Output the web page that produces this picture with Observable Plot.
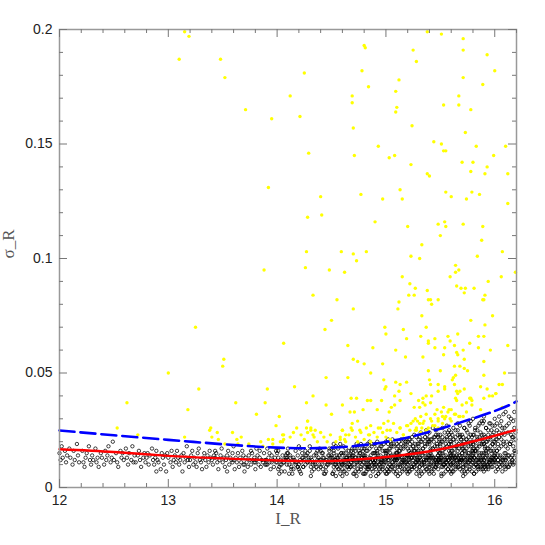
<!DOCTYPE html>
<html>
<head>
<meta charset="utf-8">
<script src="https://cdn.jsdelivr.net/npm/d3@7"></script>
<script src="https://cdn.jsdelivr.net/npm/@observablehq/plot@0.6"></script>
<style>
  html, body { margin: 0; padding: 0; background: white; }
</style>
</head>
<body>
<div id="chart"></div>
<script>
// ---- Data ----
// Bright (yellow) stars: [I_R, sigma_R]
const yellowPts = [
  [13.15,.199],[13.19,.197],[13.10,.187],[13.48,.187],[14.25,.181],[13.52,.179],[14.12,.171],[13.71,.165],[13.95,.161],[14.21,.162],
  [14.29,.146],[13.92,.131],[14.28,.118],[14.27,.103],[13.88,.095],[14.26,.096],[13.25,.070],[14.06,.063],[13.51,.056],[13.50,.053],
  [13.00,.050],[13.28,.043],[13.91,.043],[14.16,.044],[12.62,.037],[13.62,.037],[13.89,.037],[14.27,.037],[13.18,.034],[13.81,.032],
  [14.02,.031],[14.28,.029],[13.99,.027],[14.18,.026],[14.27,.026],[12.53,.026],[13.39,.026],
  [12.72,.023],[13.15,.022],[13.38,.025],[13.40,.022],[13.45,.024],[13.46,.021],[13.59,.024],[13.67,.022],[13.63,.021],[13.52,.019],
  [13.64,.019],[13.74,.019],[13.92,.021],[13.96,.021],[14.05,.023],[13.87,.018],[13.96,.019],[14.05,.020],[13.85,.020],
  [15.38,.199],[15.51,.198],[15.71,.196],[14.80,.193],[14.81,.192],[15.25,.191],[15.71,.191],[15.93,.189],[15.28,.186],[14.78,.182],
  [16.00,.182],[15.12,.178],[15.71,.179],[14.84,.175],[15.89,.176],[14.69,.171],[15.09,.173],[15.67,.171],[14.69,.168],[15.10,.166],
  [15.09,.164],[15.53,.167],[15.67,.167],[15.78,.165],[14.70,.157],[15.24,.158],[15.44,.151],[15.51,.150],[15.73,.155],[14.93,.149],
  [15.53,.147],[15.55,.147],[15.83,.149],[16.10,.149],[14.71,.145],[15.03,.144],[15.08,.145],[15.99,.145],[15.70,.142],[15.80,.142],
  [15.23,.141],[15.93,.140],[15.78,.138],[15.38,.137],[15.40,.136],[15.91,.137],[16.12,.137],
  [14.40,.127],[14.77,.128],[14.97,.126],[15.13,.130],[15.15,.126],[15.55,.129],[15.60,.127],[15.74,.126],[15.79,.129],[15.86,.128],
  [16.12,.124],[14.41,.119],[14.90,.116],[15.20,.114],[15.48,.115],[15.54,.116],[15.55,.114],[15.71,.115],[15.89,.114],[15.50,.110],
  [15.88,.108],[14.59,.103],[14.70,.102],[14.82,.103],[14.73,.099],[15.33,.106],[15.23,.101],[15.31,.100],[16.07,.103],[15.84,.101],
  [14.48,.095],[14.62,.094],[15.15,.092],[15.64,.097],[15.64,.094],[15.67,.095],[15.59,.092],[16.19,.094],[16.06,.092],[15.94,.090],
  [15.22,.089],[15.27,.087],[15.38,.086],[15.65,.088],[15.69,.087],[15.73,.087],[15.81,.087],[15.72,.085],[14.33,.084],[14.55,.082],
  [15.21,.084],[15.26,.084],[15.39,.082],[15.41,.082],[15.48,.082],[15.42,.080],[15.12,.081],[15.11,.078],[14.70,.078],[15.89,.082],
  [15.90,.082],[15.91,.084],[15.33,.075],[15.98,.075],[14.50,.073],[15.78,.073],[15.91,.071],[14.99,.070],[15.37,.070],[14.44,.069],
  [15.16,.069],
  [15.00,.067],[15.19,.065],[15.32,.066],[15.39,.064],[15.39,.063],[15.45,.065],[15.57,.066],[15.59,.064],[15.66,.067],[15.63,.062],
  [15.85,.066],[15.90,.066],[15.77,.063],[15.85,.061],[15.96,.060],[16.12,.062],[14.65,.062],[14.88,.061],[15.09,.060],[15.45,.061],
  [15.54,.061],[15.71,.060],[15.65,.059],[15.66,.058],[15.53,.058],[15.34,.057],[15.18,.057],[14.70,.056],[14.74,.055],[14.80,.054],
  [14.97,.054],[15.72,.056],[15.90,.055],[15.63,.053],[15.68,.053],[15.72,.052],[15.75,.051],[14.86,.050],[15.39,.051],[15.50,.051],
  [16.09,.050],[15.90,.049],[14.45,.048],[14.65,.048],[15.62,.048],[15.64,.049],[15.40,.047],[15.41,.045],[15.09,.046],[15.13,.045],
  [15.19,.046],[15.48,.045],[15.54,.044],[15.61,.047],[15.63,.045],[16.07,.045],[14.98,.047],[15.00,.044],[14.99,.043],[15.12,.042],
  [15.08,.040],[15.23,.041],[15.37,.040],[15.42,.040],[15.48,.042],[15.54,.043],[15.65,.042],[15.68,.042],[15.72,.043],[15.77,.039],
  [15.79,.038],[15.64,.039],[15.65,.038],[15.90,.039],[15.93,.043],[15.95,.040],[15.98,.040],[16.01,.041],[14.33,.040],[14.68,.039],
  [14.73,.039],[14.83,.038],[14.86,.038],[14.96,.038],[14.45,.036],[14.60,.036],[14.50,.032],[14.67,.033],[14.71,.033],[14.79,.034],
  [14.92,.034],[15.03,.033],[15.05,.035],[15.08,.036],[15.13,.038],[15.30,.038],[15.34,.039],[15.26,.035],[15.31,.035],[15.34,.037],
  [15.36,.036],[15.41,.037],[15.47,.034],[15.53,.035],[15.58,.034],[15.70,.036],[15.74,.037],[15.79,.036],[15.87,.034],[16.07,.035],
  [14.28,.029],[14.31,.026],[14.35,.025],[14.33,.023],[14.60,.025],[14.63,.023],[14.58,.021],[14.62,.021],[14.68,.026],[14.69,.028],
  [14.76,.025],[14.74,.029],[14.86,.027],[14.84,.023],[14.93,.026],[14.98,.028],[15.02,.029],[15.04,.025],[15.13,.026],[15.16,.023],
  [15.20,.027],[15.23,.028],[15.27,.030],[15.28,.026],[15.31,.028],[15.29,.029],[15.32,.031],[15.35,.029],[15.37,.032],[15.27,.025],
  [15.33,.026],[15.42,.029],[15.45,.032],[15.48,.030],[15.51,.033],[15.57,.033],[15.63,.032],[15.54,.030],[15.60,.029],[15.67,.031],
  [15.71,.031],[15.74,.033],[15.39,.026],[15.43,.027],[15.48,.026],
  [14.06,.023],[14.12,.022],[14.15,.024],[14.03,.020],[14.06,.021],[14.22,.023],[14.25,.021],[14.28,.024],[14.31,.025],[14.34,.022],
  [14.37,.020],[14.40,.024],[14.43,.022],[14.46,.020],[14.49,.023],[14.54,.020],[14.58,.022],[14.60,.025],[14.63,.020],[14.66,.023],
  [14.69,.025],[14.72,.022],[14.74,.020],[14.77,.024],[14.80,.021],[14.82,.026],[14.85,.023],[14.86,.020],[14.89,.024],[14.92,.022],
  [14.95,.026],[14.97,.024],[15.00,.022],[15.01,.025],[15.04,.021],[15.07,.028],[15.10,.024],[15.13,.026],[15.16,.023],[15.19,.027],
  [15.22,.025],[15.25,.029],[15.28,.025],[15.32,.024],[15.34,.028],[15.37,.025],[15.41,.030],[15.45,.027],[15.48,.029],[15.52,.028],
  [15.55,.031],[15.59,.030],[15.64,.032],[15.68,.031],
  [15.87,.044],[16.01,.041],[16.04,.045],[15.78,.039],[15.66,.041],[15.60,.034],[15.52,.031]
];

// Faint (black open circle) stars, one string per 0.1-mag column starting at I_R = 12.0.
// Each token: first digit = offset in 0.01 mag, remaining digits = sigma_R in thousandths.
const blackCols = [
  "015 112 218 313 516 611 714 917",
  "013 210 316 412 619 714 811",
  "116 211 309 413 515 718 812 910",
  "014 112 317 411 513 609 815 913",
  "110 216 312 414 518 711 813 920",
  "012 215 311 409 616 713 815 912",
  "117 213 310 415 612 718 811 914",
  "011 214 316 412 509 713 815 911",
  "013 115 210 314 517 612 710 813 916 907",
  "012 111 308 415 513 610 714 807 915",
  "013 211 316 409 512 614 711 816 913",
  "010 112 214 307 415 511 613 718 812 909",
  "012 114 216 310 413 511 609 715 817 912",
  "011 213 315 412 509 614 711 816 913 108",
  "012 110 214 313 415 511 608 712 814 917 316",
  "011 113 209 312 414 516 610 713 812 911 915 407",
  "012 108 213 311 415 509 613 711 816 910 914 018",
  "010 113 211 309 414 512 610 715 812 911 913 007 616",
  "011 112 214 310 413 509 612 711 815 910 912 008 117 416",
  "012 110 213 311 408 514 511 612 709 813 911 916 010 117 315",
  "011 113 209 312 410 514 611 707 812 910 913 015 108 310 611 813 206 407 612 814 915 116",
  "012 110 214 309 411 513 612 710 811 909 015 213 508 711 914 017 406 106 308 512 716 909",
  "010 112 211 313 409 512 610 714 811 912 008 107 315 413 616 811 913 206 409 614 815 018 117",
  "011 109 212 310 414 511 609 712 813 910 016 113 207 311 510 615 808 912 105 408 614 716 917 018",
  "012 110 208 313 411 509 612 710 814 911 009 115 213 406 512 610 711 816 913 306 507 714 817 016 215",
  "011 113 209 312 410 514 611 708 812 910 013 106 215 310 412 509 613 710 915 911 106 207 405 608 806 014 216 418 617 819 111 312 513 714 915 017 219 411",
  "010 112 211 313 409 512 610 714 811 912 008 107 315 413 616 811 913 014 210 512 709 005 207 406 608 809 115 317 512 713 914 010 212 413 614 816 118 311 509 710 917",
  "012 109 213 311 408 514 611 709 813 911 015 110 207 312 410 513 615 712 810 916 006 106 305 507 708 906 014 216 418 615 817 012 213 411 612 813 914 117 319 516 719",
  "011 113 210 312 409 513 611 708 812 910 014 106 216 310 412 509 614 710 815 911 017 308 006 207 408 605 807 915 114 316 517 718 911 013 212 410 611 812 118 319 520 719 109 309",
  "012 110 213 311 408 514 511 612 709 813 911 916 010 117 215 410 612 716 811 009 306 518 105 306 507 708 907 015 216 417 618 819 012 113 314 512 713 913 019 220 410 611 810 108 509",
  "011 113 209 312 410 514 611 707 812 910 913 015 108 310 611 813 016 219 417 519 718 906 212 415 006 207 408 609 808 014 116 317 518 719 912 113 214 413 613 814 020 221 420 621 812 915 106 307 509 710",
  "012 110 214 309 411 513 612 710 811 909 015 213 508 711 914 017 118 316 419 617 820 007 510 013 105 306 507 708 907 015 216 417 618 819 012 113 314 512 713 913 019 220 421 621 820 109 310 511 712 911 014 818",
  "010 112 211 313 409 512 610 714 811 912 008 107 315 413 616 811 913 017 121 219 420 518 716 919 806 006 207 408 609 808 014 116 317 518 719 912 113 214 413 613 814 020 221 422 623 822 910 111 309 510 711 014 215 616 817",
  "011 109 212 310 414 511 609 712 813 910 016 113 207 311 510 615 808 912 018 122 320 417 619 821 921 007 105 306 507 708 907 015 216 417 618 819 012 113 314 512 713 913 019 220 421 622 823 920 109 310 511 712 914 021 224 725",
  "012 110 208 313 411 509 612 710 814 911 009 115 213 406 512 610 711 816 913 019 121 317 420 522 718 823 920 006 207 408 609 808 014 116 317 518 719 912 113 214 413 613 814 020 221 422 623 822 921 010 211 410 611 812 024 326 625 915 117",
  "011 113 209 312 410 514 611 708 812 910 013 106 215 310 412 509 613 710 915 911 018 120 222 417 519 621 724 816 922 105 306 507 708 907 015 216 417 618 819 012 113 314 512 713 913 019 220 421 622 823 920 109 310 511 712 914 023 226 424 627 825 011 310",
  "010 112 211 313 409 512 610 714 811 912 008 107 315 413 616 811 913 014 210 512 709 019 123 221 418 520 625 717 823 921 006 207 408 609 808 014 116 317 518 719 912 113 214 413 613 814 020 221 422 623 822 921 010 211 410 611 812 024 226 425 628 827 113 514 016",
  "012 109 213 311 408 514 611 709 813 911 015 110 207 312 410 513 615 712 810 916 018 122 226 319 421 524 620 727 818 922 007 105 306 507 708 907 015 216 417 618 819 012 113 314 512 713 913 019 220 421 622 823 920 109 310 511 712 914 023 226 425 628 829 117 316 615 017",
  "011 113 210 312 409 513 611 708 812 910 014 106 216 310 412 509 614 710 815 911 017 020 123 225 318 422 527 619 724 821 928 106 307 508 709 908 015 216 417 618 819 012 113 314 512 713 913 019 220 421 622 823 920 109 310 511 712 914 023 226 425 628 829 030 117 316 615 016",
  "012 110 213 311 408 514 511 612 709 813 911 916 010 117 215 410 612 716 811 009 019 122 226 320 423 528 621 725 819 924 029 007 208 409 610 809 015 216 417 618 819 012 113 314 512 713 913 019 220 421 622 823 920 109 310 511 712 914 023 226 425 628 827 031 118 317 616",
  "011 113 209 312 410 514 611 707 812 910 015 018 121 225 319 424 527 621 726 820 923 030 216 107 308 509 710 909 014 216 417 618 819 012 113 314 513 713 913 020 221 422 623 824 926 111 312 511 712 915 027 228 431 629 832",
  "012 110 214 309 411 513 612 710 811 916 018 120 224 331 419 523 622 718 826 921 033 008 209 410 611 813 015 217 419 614 816 012 113 314 520 722 924 127 328 530 729 833 915"
];

// Fitted curves
const curveX   = [12.0, 12.5, 13.0, 13.5, 14.0, 14.5, 15.0, 15.5, 16.0, 16.2];
const redY     = [0.0167, 0.0155, 0.0138, 0.0127, 0.0118, 0.0116, 0.0133, 0.0167, 0.0226, 0.0252];
const blueY    = [0.0249, 0.0228, 0.0208, 0.0189, 0.0174, 0.0174, 0.0199, 0.0257, 0.0334, 0.0376];

// Axis ticks
const xMajor = [12, 13, 14, 15, 16];
const xMinor = [12.2,12.4,12.6,12.8,13.2,13.4,13.6,13.8,14.2,14.4,14.6,14.8,15.2,15.4,15.6,15.8,16.2];
const yMajor = [0, 0.05, 0.1, 0.15, 0.2];
const yMinor = [0.01,0.02,0.03,0.04,0.06,0.07,0.08,0.09,0.11,0.12,0.13,0.14,0.16,0.17,0.18,0.19];

// ---- Build tables ----
const yellow = yellowPts.map(([x, y]) => ({x, y}));
const black = [];
blackCols.forEach((s, i) => {
  const x0 = 12 + i * 0.1;
  s.trim().split(/\s+/).forEach(t => {
    black.push({x: x0 + (+t[0]) * 0.01, y: (+t.slice(1)) / 1000});
  });
});
const red = curveX.map((x, i) => ({x, y: redY[i]}));
const blue = curveX.map((x, i) => ({x, y: blueY[i]}));

const W = 545, H = 545, mL = 59, mR = 29, mT = 29, mB = 58;
const fw = W - mL - mR, fh = H - mT - mB;
const tickC = "#777";
const serif = "'Liberation Serif', 'DejaVu Serif', serif";

const chart = Plot.plot({
  width: W, height: H,
  marginLeft: mL, marginRight: mR, marginTop: mT, marginBottom: mB,
  x: {domain: [12, 16.2]},
  y: {domain: [0, 0.2]},
  style: {fontFamily: "'Liberation Sans', Arial, sans-serif", fontSize: "14px", background: "white", color: "#222"},
  marks: [
    Plot.dot(black, {x: "x", y: "y", r: 1.7, stroke: "#000", strokeWidth: 0.75, fill: "none"}),
    Plot.dot(yellow, {x: "x", y: "y", r: 1.7, fill: "#ffff00", stroke: "none"}),
    Plot.line(red, {x: "x", y: "y", stroke: "#ff0000", strokeWidth: 2.4, curve: "natural"}),
    Plot.line(blue, {x: "x", y: "y", stroke: "#0000ff", strokeWidth: 2.6, strokeDasharray: "15,6", curve: "natural"}),
    Plot.frame({stroke: "#999", strokeWidth: 1.5}),
    // inward ticks: bottom, top
    Plot.ruleX(xMajor, {stroke: tickC, insetTop: fh - 8}),
    Plot.ruleX(xMinor, {stroke: tickC, insetTop: fh - 4}),
    Plot.ruleX(xMajor, {stroke: tickC, insetBottom: fh - 8}),
    Plot.ruleX(xMinor, {stroke: tickC, insetBottom: fh - 4}),
    // inward ticks: left, right
    Plot.ruleY(yMajor, {stroke: tickC, insetRight: fw - 8}),
    Plot.ruleY(yMinor, {stroke: tickC, insetRight: fw - 4}),
    Plot.ruleY(yMajor, {stroke: tickC, insetLeft: fw - 8}),
    Plot.ruleY(yMinor, {stroke: tickC, insetLeft: fw - 4}),
    Plot.axisX({ticks: xMajor, tickSize: 0, tickPadding: 8, label: null, tickFormat: d => String(d), fontSize: 14}),
    Plot.axisY({ticks: yMajor, tickSize: 0, tickPadding: 7, label: null, tickFormat: d => String(d), fontSize: 14}),
    Plot.text(["I_R"], {frameAnchor: "bottom", dy: 36, fontFamily: serif, fontSize: 17, fill: "#555"}),
    Plot.text(["σ_R"], {frameAnchor: "left", dx: -51, rotate: -90, fontFamily: serif, fontSize: 17, fill: "#555"})
  ]
});
document.getElementById("chart").appendChild(chart);
</script>
</body>
</html>
